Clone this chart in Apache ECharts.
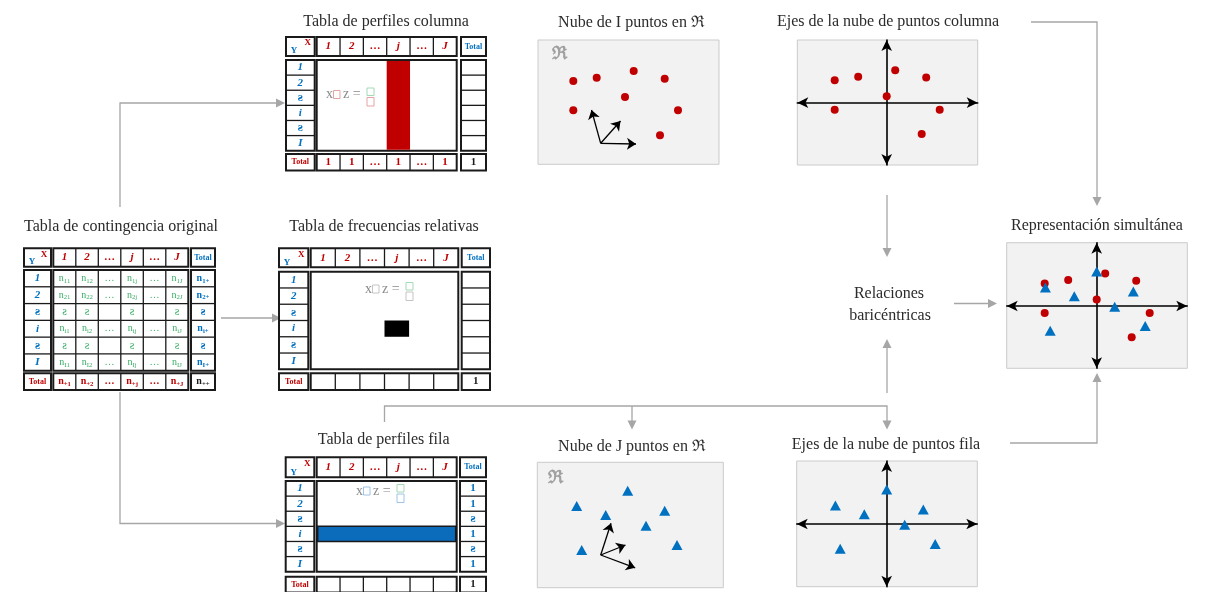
<!DOCTYPE html>
<html><head><meta charset="utf-8">
<script src="https://cdn.jsdelivr.net/npm/echarts@6/dist/echarts.min.js"></script>
<style>html,body{margin:0;padding:0;background:#fff}#c{width:1205px;height:592px}</style>
</head><body><div id="c"></div>
<script>
// ---------------- data ----------------
const colHeaders = ['1', '2', '…', 'j', '…', 'J'];
const rowLabels = ['1', '2', 'ƨ', 'i', 'ƨ', 'I'];
const contCells = [
  ['n_11', 'n_12', '…', 'n_1j', '…', 'n_1J'],
  ['n_21', 'n_22', '…', 'n_2j', '…', 'n_2J'],
  ['ƨ', 'ƨ', '', 'ƨ', '', 'ƨ'],
  ['n_i1', 'n_i2', '…', 'n_ij', '…', 'n_iJ'],
  ['ƨ', 'ƨ', '', 'ƨ', '', 'ƨ'],
  ['n_I1', 'n_I2', '…', 'n_Ij', '…', 'n_IJ']
];
const contRowTotals = ['n_1+', 'n_2+', 'ƨ', 'n_i+', 'ƨ', 'n_I+'];
const contColTotals = ['n_+1', 'n_+2', '…', 'n_+j', '…', 'n_+J'];
const contGrandTotal = 'n_++';
const colProfileTotals = ['1', '1', '…', '1', '…', '1'];
const rowProfileTotals = ['1', '1', 'ƨ', '1', 'ƨ', '1'];
const emptyTotals = ['', '', '', '', '', ''];
const grandTotalOne = '1';
const totalLabel = 'Total';

const titleTexts = {
  colProfiles: 'Tabla de perfiles columna',
  cloudI: 'Nube de I puntos en ℜ',
  colAxes: 'Ejes de la nube de puntos columna',
  contingency: 'Tabla de contingencia original',
  relFreq: 'Tabla de frecuencias relativas',
  simultaneous: 'Representación simultánea',
  rowProfiles: 'Tabla de perfiles fila',
  cloudJ: 'Nube de J puntos en ℜ',
  rowAxes: 'Ejes de la nube de puntos fila'
};
const baryLines = ['Relaciones', 'baricéntricas'];
const spaceSymbol = 'ℜ';

// point clouds (units = pixels, y up, relative to panel centre)
const cloudIPoints = [[-55.2, 21], [-31.8, 24.3], [5.2, 31], [36.2, 23.3], [-3.5, 5], [-55.2, -8.3], [49.5, -8.3], [31.5, -33.3]];
const cloudIVectors = [[[-27.8, -41.3], [-37, -8]], [[-27.8, -41.3], [-8, -19]], [[-27.8, -41.3], [7.5, -42]]];
const cloudJPoints = [[-2.3, 34.3], [-53.3, 19], [-24.3, 10], [34.7, 14.3], [16, -0.7], [-48.3, -25], [47, -20]];
const cloudJVectors = [[[-29.3, -30], [-19, 1.8]], [[-29.3, -30], [-4.5, -20]], [[-29.3, -30], [5.2, -42.8]]];
const colAxisPoints = [[-52, 22.5], [-28.5, 26], [8.5, 32.5], [39.5, 25.3], [0, 6.5], [-52, -7], [53, -7], [35, -31.3]];
const rowAxisPoints = [[0, 34.5], [-51.3, 18.5], [-22.4, 9.8], [36.6, 14.5], [18, -0.8], [-46.5, -24.8], [48.5, -20]];

// ---------------- styles / layout ----------------
const SERIF = "'Liberation Serif', 'DejaVu Serif', serif";
const RED = '#c00000', BLUE = '#0070c0', GREEN = '#3aae66', GRAY = '#a6a6a6';
const INK = '#1a1a1a';

const panels = [
  { l: 538, t: 40, w: 181, h: 124.3, cx: 628.5, cy: 102, axes: false },
  { l: 797.3, t: 40, w: 180.4, h: 125, cx: 886.7, cy: 102.7, axes: true },
  { l: 1006.7, t: 242.7, w: 180.6, h: 125.6, cx: 1096.7, cy: 306, axes: true },
  { l: 537.3, t: 462.3, w: 186, h: 125.4, cx: 630, cy: 525, axes: false },
  { l: 796.7, t: 461, w: 180.6, h: 125.7, cx: 886.7, cy: 524, axes: true }
];

const els = [];
function txt(x, y, text, font, fill, align, va) {
  els.push({ type: 'text', x: x, y: y, z: 10,
    style: { text: text, font: font, fill: fill, align: align || 'center', verticalAlign: va || 'middle' } });
}
function cellText(x, y, v, color, size, weight) {
  if (!v) return;
  if (v.indexOf('_') >= 0) {
    const parts = v.split('_');
    els.push({ type: 'text', x: x, y: y, z: 10, style: {
      text: '{m|' + parts[0] + '}{s|' + parts[1] + '}',
      align: 'center', verticalAlign: 'middle',
      rich: {
        m: { fill: color, fontFamily: SERIF, fontSize: size, fontWeight: weight || 'normal' },
        s: { fill: color, fontFamily: SERIF, fontSize: size * 0.68, fontWeight: weight || 'normal', padding: [5, 0, 0, 0] }
      } } });
  } else if (v === 'ƨ') {
    txt(x, y, v, (weight || 'normal') + ' ' + (size + 2) + 'px ' + SERIF, color);
  } else {
    txt(x, y, v, (weight || 'normal') + ' ' + size + 'px ' + SERIF, color);
  }
}
function box(x0, y0, x1, y1, fill) {
  els.push({ type: 'rect', z: 5, shape: { x: x0, y: y0, width: x1 - x0, height: y1 - y0 },
    style: { fill: fill || '#fff', stroke: INK, lineWidth: 2 } });
}
function fillRect(x0, y0, x1, y1, fill, stroke) {
  els.push({ type: 'rect', z: 6, shape: { x: x0, y: y0, width: x1 - x0, height: y1 - y0 },
    style: { fill: fill, stroke: stroke || null, lineWidth: 1.5 } });
}
function seg(x1, y1, x2, y2, color, lw, z) {
  els.push({ type: 'line', z: z || 7, shape: { x1: x1, y1: y1, x2: x2, y2: y2 },
    style: { stroke: color, lineWidth: lw } });
}

function drawTable(T, o) {
  const n = 6;
  const cw = (T.cx[1] - T.cx[0]) / n, rh = (T.by[1] - T.by[0]) / n;
  const hMid = (T.hy[0] + T.hy[1]) / 2, tMid = (T.ty[0] + T.ty[1]) / 2;
  const kMid = (T.kx[0] + T.kx[1]) / 2, totMid = (T.tx[0] + T.tx[1]) / 2;
  // header row
  box(T.kx[0], T.hy[0], T.kx[1], T.hy[1]);
  txt(T.kx[0] + 8, T.hy[1] - 5, 'Y', 'bold 9px ' + SERIF, BLUE);
  txt(T.kx[1] - 7, T.hy[0] + 6, 'X', 'bold 9px ' + SERIF, RED);
  box(T.cx[0], T.hy[0], T.cx[1], T.hy[1]);
  for (let i = 0; i < n; i++) {
    if (i > 0) seg(T.cx[0] + i * cw, T.hy[0], T.cx[0] + i * cw, T.hy[1], INK, 1.3);
    const h = colHeaders[i];
    txt(T.cx[0] + (i + 0.5) * cw, hMid, h, (h === '…' ? 'bold 11px ' : 'italic bold 11px ') + SERIF, RED);
  }
  box(T.tx[0], T.hy[0], T.tx[1], T.hy[1]);
  txt(totMid, hMid, totalLabel, 'bold 8px ' + SERIF, BLUE);
  // body: row labels
  box(T.kx[0], T.by[0], T.kx[1], T.by[1]);
  for (let r = 0; r < n; r++) {
    if (r > 0) seg(T.kx[0], T.by[0] + r * rh, T.kx[1], T.by[0] + r * rh, INK, 1.3);
    const lab = rowLabels[r];
    txt(kMid, T.by[0] + (r + 0.5) * rh, lab, (lab === 'ƨ' ? 'bold 13px ' : 'italic bold 11px ') + SERIF, BLUE);
  }
  // body: centre
  box(T.cx[0], T.by[0], T.cx[1], T.by[1]);
  if (o.highlightCol !== undefined) fillRect(T.cx[0] + o.highlightCol * cw, T.by[0] + 1, T.cx[0] + (o.highlightCol + 1) * cw, T.by[1] - 1, RED);
  if (o.highlightRow !== undefined) fillRect(T.cx[0] + 1, T.by[0] + o.highlightRow * rh, T.cx[1] - 1, T.by[0] + (o.highlightRow + 1) * rh, '#0b6cbc', INK);
  if (o.highlightCell) {
    const c = o.highlightCell;
    fillRect(T.cx[0] + c[0] * cw, T.by[0] + c[1] * rh, T.cx[0] + (c[0] + 1) * cw, T.by[0] + (c[1] + 1) * rh, '#000');
  }
  if (o.cells) {
    for (let i = 1; i < n; i++) seg(T.cx[0] + i * cw, T.by[0], T.cx[0] + i * cw, T.by[1], INK, 1.3);
    for (let r = 1; r < n; r++) seg(T.cx[0], T.by[0] + r * rh, T.cx[1], T.by[0] + r * rh, INK, 1.3);
    for (let r = 0; r < n; r++) for (let i = 0; i < n; i++)
      cellText(T.cx[0] + (i + 0.5) * cw, T.by[0] + (r + 0.5) * rh, o.cells[r][i], GREEN, 10);
  }
  // body: totals column
  box(T.tx[0], T.by[0], T.tx[1], T.by[1]);
  for (let r = 0; r < n; r++) {
    if (r > 0) seg(T.tx[0], T.by[0] + r * rh, T.tx[1], T.by[0] + r * rh, INK, 1.3);
    cellText(totMid, T.by[0] + (r + 0.5) * rh, o.rowTotals[r], BLUE, o.rowTotalsSize || 11, 'bold');
  }
  // totals row
  box(T.kx[0], T.ty[0], T.kx[1], T.ty[1]);
  txt(kMid, tMid, totalLabel, 'bold 8px ' + SERIF, RED);
  box(T.cx[0], T.ty[0], T.cx[1], T.ty[1]);
  for (let i = 0; i < n; i++) {
    if (i > 0) seg(T.cx[0] + i * cw, T.ty[0], T.cx[0] + i * cw, T.ty[1], INK, 1.3);
    cellText(T.cx[0] + (i + 0.5) * cw, tMid, o.colTotals[i], RED, o.colTotalsSize || 11, 'bold');
  }
  box(T.tx[0], T.ty[0], T.tx[1], T.ty[1]);
  cellText(totMid, tMid, o.grand, INK, o.grandSize || 11, 'bold');
}

function formula(X0, yc, c1, cTop, cBot) {
  const f = '14px ' + SERIF, col = '#8a8a8a';
  txt(X0, yc, 'x', f, col, 'left');
  els.push({ type: 'rect', z: 10, shape: { x: X0 + 7.5, y: yc - 4, width: 6.5, height: 8 }, style: { fill: 'none', stroke: c1, lineWidth: 1 } });
  txt(X0 + 17, yc, 'z =', f, col, 'left');
  els.push({ type: 'rect', z: 10, shape: { x: X0 + 41, y: yc - 6.5, width: 7, height: 7.5 }, style: { fill: 'none', stroke: cTop, lineWidth: 1 } });
  els.push({ type: 'rect', z: 10, shape: { x: X0 + 41, y: yc + 3, width: 7, height: 8.5 }, style: { fill: 'none', stroke: cBot, lineWidth: 1 } });
}

function arrowHead(x, y, dir) {
  const L = 9, Wd = 4.5;
  let pts;
  if (dir === 'right') pts = [[x, y], [x - L, y - Wd], [x - L, y + Wd]];
  if (dir === 'down') pts = [[x, y], [x - Wd, y - L], [x + Wd, y - L]];
  if (dir === 'up') pts = [[x, y], [x - Wd, y + L], [x + Wd, y + L]];
  els.push({ type: 'polygon', z: 3, shape: { points: pts }, style: { fill: GRAY } });
}
function pline(pts) {
  els.push({ type: 'polyline', z: 3, shape: { points: pts }, style: { stroke: GRAY, lineWidth: 1.3, fill: null } });
}

// ---------------- tables ----------------
const T0 = { kx: [24, 51], cx: [53.3, 188.3], tx: [191, 215], hy: [248.3, 266.7], by: [270, 370.7], ty: [373.3, 390] };
const T1 = { kx: [286, 314.7], cx: [316.7, 456.7], tx: [461, 486], hy: [37, 56], by: [60, 150.7], ty: [154, 170.5] };
const T2 = { kx: [279, 308.3], cx: [310.7, 458.3], tx: [461.7, 490], hy: [248.3, 267.3], by: [271.7, 369.3], ty: [373.3, 390] };
const T3 = { kx: [285.7, 314.3], cx: [316.7, 456.7], tx: [460, 486], hy: [457.3, 477.3], by: [481, 571.7], ty: [576.7, 592.5] };

drawTable(T0, { cells: contCells, rowTotals: contRowTotals, colTotals: contColTotals, grand: contGrandTotal, rowTotalsSize: 10, colTotalsSize: 10, grandSize: 10 });
drawTable(T1, { highlightCol: 3, rowTotals: emptyTotals, colTotals: colProfileTotals, grand: grandTotalOne });
drawTable(T2, { highlightCell: [3, 3], rowTotals: emptyTotals, colTotals: emptyTotals, grand: grandTotalOne });
drawTable(T3, { highlightRow: 3, rowTotals: rowProfileTotals, colTotals: emptyTotals, grand: grandTotalOne });

formula(326, 94.5, '#e7a3a3', '#a3d9b4', '#e7a3a3');
formula(365, 289, '#c4c4c4', '#a3d9b4', '#c4c4c4');
formula(356, 491, '#9dc4e8', '#a3d9b4', '#9dc4e8');

// ---------------- titles ----------------
const TF = '16px ' + SERIF, TC = '#2b2b2b';
txt(386, 21.5, titleTexts.colProfiles, TF, TC);
txt(631.5, 23, titleTexts.cloudI, TF, TC);
txt(888, 22, titleTexts.colAxes, TF, TC);
txt(121, 226.5, titleTexts.contingency, TF, TC);
txt(384, 226.5, titleTexts.relFreq, TF, TC);
txt(1097, 226, titleTexts.simultaneous, TF, TC);
txt(383.7, 440, titleTexts.rowProfiles, TF, TC);
txt(632, 446.5, titleTexts.cloudJ, TF, TC);
txt(886, 445, titleTexts.rowAxes, TF, TC);
txt(889, 293.3, baryLines[0], TF, TC);
txt(890, 315.5, baryLines[1], TF, TC);
txt(559, 54, spaceSymbol, 'bold 18px ' + SERIF, '#a0a0a0');
txt(555, 478, spaceSymbol, 'bold 18px ' + SERIF, '#a0a0a0');

// ---------------- connectors ----------------
pline([[120, 207], [120, 103], [277, 103]]); arrowHead(285, 103, 'right');
pline([[120, 392], [120, 523.5], [277, 523.5]]); arrowHead(285, 523.5, 'right');
pline([[221, 318], [273, 318]]); arrowHead(281, 318, 'right');
pline([[1031, 22], [1097, 22], [1097, 198]]); arrowHead(1097, 206, 'down');
pline([[1010, 443], [1097, 443], [1097, 381]]); arrowHead(1097, 373, 'up');
pline([[954, 303.5], [989, 303.5]]); arrowHead(997, 303.5, 'right');
pline([[887, 195], [887, 249]]); arrowHead(887, 257, 'down');
pline([[887, 393], [887, 347]]); arrowHead(887, 339, 'up');
pline([[384.5, 422], [384.5, 406], [887, 406], [887, 421]]); arrowHead(887, 429.5, 'down');
pline([[632, 406], [632, 421]]); arrowHead(632, 429.5, 'down');

// ---------------- chart ----------------
const axisCommon = (p) => ({
  type: 'value',
  show: p.axes,
  axisLine: { show: true, onZero: true, symbol: ['arrow', 'arrow'], symbolSize: [8, 11], lineStyle: { color: '#000', width: 1.6 } },
  axisTick: { show: false }, axisLabel: { show: false }, splitLine: { show: false }
});
const dot = { color: RED, opacity: 1 };
const tri = { color: BLUE, opacity: 1 };
const option = {
  animation: false,
  backgroundColor: '#fff',
  grid: panels.map(p => ({ left: p.l, top: p.t, width: p.w, height: p.h, show: true, backgroundColor: '#f2f2f2', borderColor: '#cbcbcb', borderWidth: 1 })),
  xAxis: panels.map((p, i) => Object.assign(axisCommon(p), { gridIndex: i, min: -(p.cx - p.l), max: p.l + p.w - p.cx })),
  yAxis: panels.map((p, i) => Object.assign(axisCommon(p), { gridIndex: i, min: -(p.t + p.h - p.cy), max: p.cy - p.t })),
  series: [
    { type: 'scatter', xAxisIndex: 0, yAxisIndex: 0, data: cloudIPoints, symbol: 'circle', symbolSize: 8, itemStyle: dot },
    { type: 'lines', coordinateSystem: 'cartesian2d', xAxisIndex: 0, yAxisIndex: 0, symbol: ['none', 'arrow'], symbolSize: 9,
      data: cloudIVectors.map(v => ({ coords: v })), lineStyle: { color: '#000', width: 1.3, opacity: 1 }, itemStyle: { color: '#000' } },
    { type: 'scatter', xAxisIndex: 1, yAxisIndex: 1, data: colAxisPoints, symbol: 'circle', symbolSize: 8, itemStyle: dot },
    { type: 'scatter', xAxisIndex: 2, yAxisIndex: 2, data: colAxisPoints, symbol: 'circle', symbolSize: 8, itemStyle: dot, z: 3 },
    { type: 'scatter', xAxisIndex: 2, yAxisIndex: 2, data: rowAxisPoints, symbol: 'triangle', symbolSize: [11, 10], itemStyle: tri, z: 4 },
    { type: 'scatter', xAxisIndex: 3, yAxisIndex: 3, data: cloudJPoints, symbol: 'triangle', symbolSize: [11, 10], itemStyle: tri },
    { type: 'lines', coordinateSystem: 'cartesian2d', xAxisIndex: 3, yAxisIndex: 3, symbol: ['none', 'arrow'], symbolSize: 9,
      data: cloudJVectors.map(v => ({ coords: v })), lineStyle: { color: '#000', width: 1.3, opacity: 1 }, itemStyle: { color: '#000' } },
    { type: 'scatter', xAxisIndex: 4, yAxisIndex: 4, data: rowAxisPoints, symbol: 'triangle', symbolSize: [11, 10], itemStyle: tri }
  ],
  graphic: { elements: els }
};
const chart = echarts.init(document.getElementById('c'), null, { renderer: 'canvas' });
chart.setOption(option);
</script>
</body></html>
